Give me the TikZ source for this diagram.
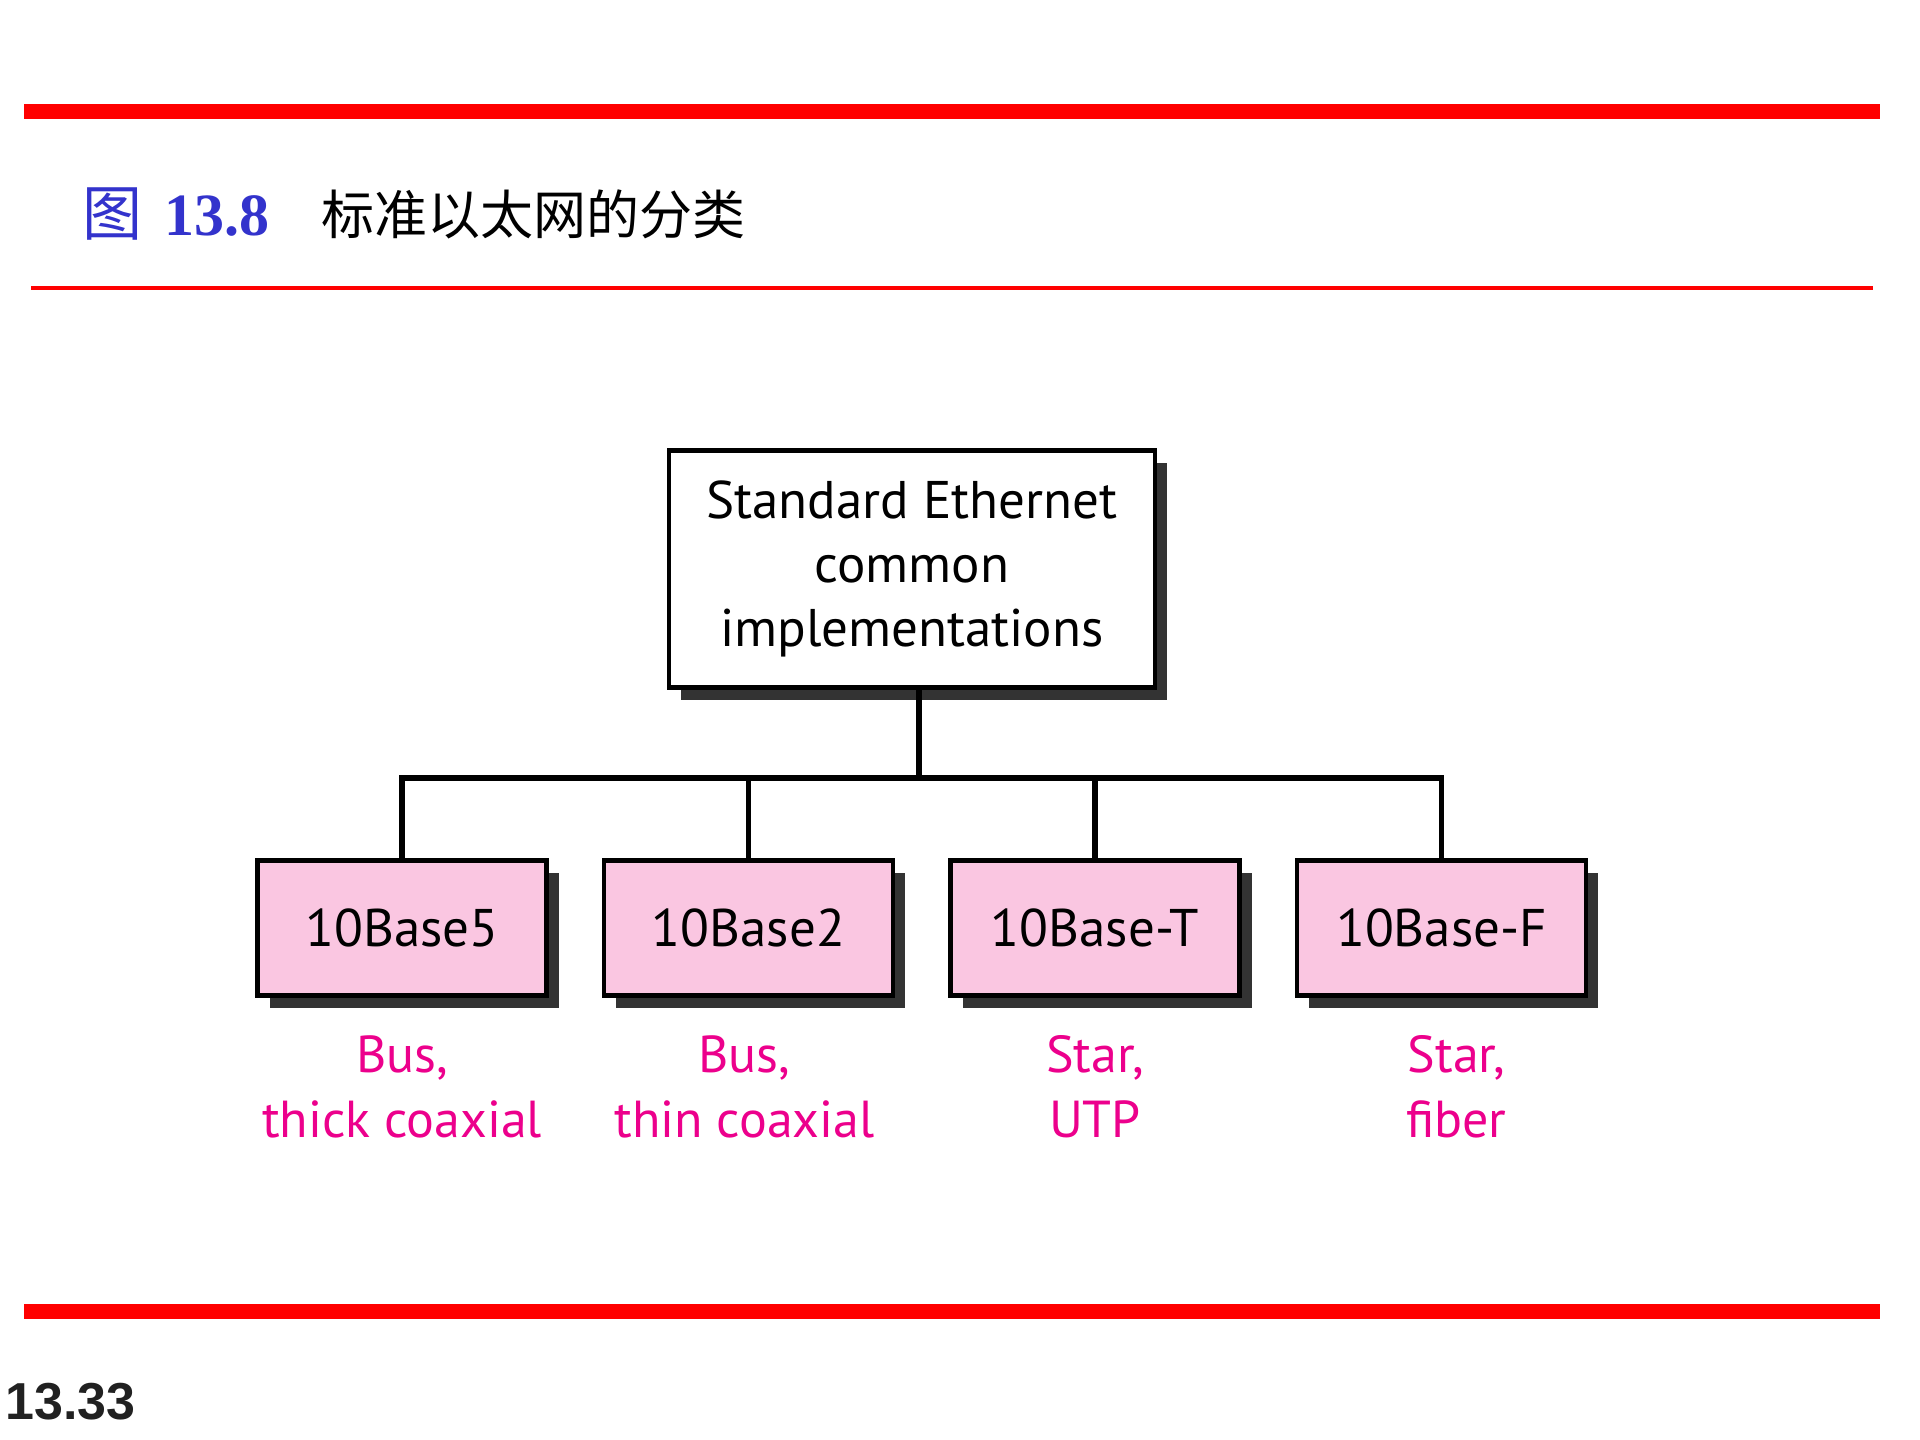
\documentclass[tikz,border=0pt]{standalone}
\usepackage{fontspec}
\setmainfont{PT Sans}
\newfontfamily\cjkfont{Noto Sans CJK SC}
\newfontfamily\figfont{Liberation Serif}
\newfontfamily\pagefont{Liberation Sans}
\usetikzlibrary{positioning, shadows}

\definecolor{rulered}{RGB}{255,0,0}
\definecolor{figblue}{RGB}{51,51,204}
\definecolor{boxpink}{RGB}{250,198,225}
\definecolor{labelpink}{RGB}{236,0,140}
\definecolor{shadowgray}{RGB}{51,51,51}

\begin{document}
\begin{tikzpicture}[
    x=1pt, y=-1pt,
    node distance=38pt and 53pt,
    boxshadow/.style={drop shadow={shadow xshift=12pt, shadow yshift=-12pt, fill=shadowgray, opacity=1}},
    rootbox/.style={rectangle, draw, line width=4.5pt, fill=white, boxshadow, align=center,
        minimum width=486pt, minimum height=237pt, inner sep=0pt, font=\fontsize{53}{64}\selectfont},
    typebox/.style={rectangle, draw, line width=4.5pt, fill=boxpink, boxshadow,
        minimum width=289pt, minimum height=135pt, inner sep=0pt, font=\fontsize{53}{64}\selectfont},
    medium/.style={align=center, text=labelpink, inner sep=0pt, font=\fontsize{52}{65}\selectfont},
    link/.style={line width=5.5pt}
]
    \useasboundingbox (0,0) rectangle (1920,1440);

    % page rules and titles
    \draw[rulered, line width=15pt] (24,111) -- (1880,111);
    \draw[rulered, line width=4pt] (31,288) -- (1873,288);
    \draw[rulered, line width=15pt] (24,1311) -- (1880,1311);
    \node[anchor=west, inner sep=0pt, text=figblue] (fig) at (82,214)
        {\fontsize{60}{60}\selectfont\cjkfont 图\hspace{22pt}\figfont\bfseries 13.8};
    \node[anchor=west, inner sep=0pt] (caption) at (321,214)
        {\fontsize{53}{53}\selectfont\cjkfont 标准以太网的分类};
    \node[anchor=west, inner sep=0pt, text=black!87] (page) at (5,1402)
        {\fontsize{52}{52}\selectfont\pagefont\bfseries 13.33};

    % tree
    \node[rootbox] (root) at (912,569) {Standard Ethernet\\common\\implementations};
    \node[typebox] (b5) at (402,928) {10Base5};
    \node[typebox, right=of b5] (b2) {10Base2};
    \node[typebox, right=of b2] (bt) {10Base-T};
    \node[typebox, right=of bt] (bf) {10Base-F};

    \coordinate (hub) at (919,778);
    \draw[link] (root.south -| hub) -- (hub);
    \draw[link] (b5.north) |- (hub) -| (bf.north);
    \draw[link] (b2.north) -- (b2.north |- hub);
    \draw[link] (bt.north) -- (bt.north |- hub);

    \node[medium, below=of b5] (m5) {Bus,\\thick coaxial};
    \node[medium, below=of b2, xshift=-4pt] (m2) {Bus,\\thin coaxial};
    \node[medium, below=of bt] (mt) {Star,\\UTP};
    \node[medium, below=of bf, xshift=15pt] (mf) {Star,\\fiber};
\end{tikzpicture}
\end{document}
